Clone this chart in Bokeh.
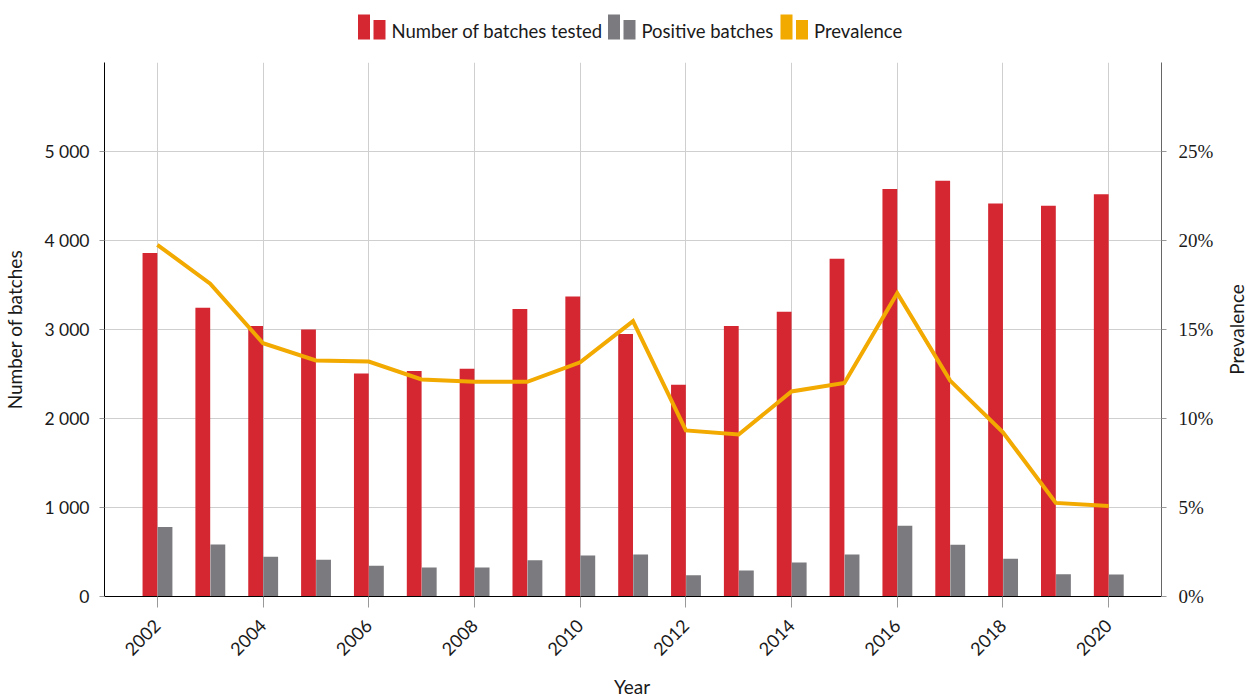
import math
from bokeh.plotting import figure
from bokeh.models import (Range1d, LinearAxis, FixedTicker, CustomJSTickFormatter,
                          ColumnDataSource)
from bokeh.transform import dodge
from bokeh.layouts import column, row
from bokeh.embed import file_html
from bokeh.resources import INLINE
from bokeh.core.properties import value

# ---------------- data ----------------
years = list(range(2002, 2021))
tested = [3860, 3245, 3040, 3000, 2505, 2535, 2560, 3230, 3370, 2950,
          2380, 3040, 3200, 3795, 4580, 4670, 4415, 4390, 4520]
positive = [780, 585, 447, 412, 345, 327, 327, 408, 461, 472,
            240, 292, 382, 472, 795, 581, 424, 251, 248]
prevalence = [19.76, 17.57, 14.23, 13.26, 13.20, 12.19, 12.06, 12.06, 13.16, 15.47,
              9.33, 9.10, 11.52, 12.00, 17.04, 12.13, 9.23, 5.26, 5.09]
left_ticks = [0, 1000, 2000, 3000, 4000, 5000]
right_ticks = [0, 5, 10, 15, 20, 25]
year_ticks = list(range(2002, 2021, 2))
legend_labels = ["Number of batches tested", "Positive batches", "Prevalence"]
x_title = "Year"
y_title = "Number of batches"
y2_title = "Prevalence"

# ---------------- style ----------------
RED = "#D42731"
GREY = "#7B7B7F"
ORANGE = "#F2A900"
GRID = "#CFCFCF"
FONT = "Lato"
TEXT = "#1a1a1a"

# page geometry (the page has no margin): frame spans x 103..1160, y 62..596
BL = 103          # left border
FW, FH = 1057, 534
BR_MAIN = 60      # right border of the main chart (tick labels)
RT_W = 26         # strip holding the right axis title
BR = BR_MAIN + RT_W
LEG_H = 54        # legend strip height
BT, BB = 8, 74    # main chart top / bottom borders
XT_H = 27         # strip holding the x axis title

src = ColumnDataSource(dict(year=years, tested=tested, positive=positive, prev=prevalence))


def strip(fw, fh, xr, yr, bl, br, bt=0, bb=0):
    f = figure(frame_width=fw, frame_height=fh, x_range=xr, y_range=yr,
               output_backend="svg", toolbar_location=None,
               min_border_left=bl, min_border_right=br, min_border_top=bt, min_border_bottom=bb,
               outline_line_color=None, x_axis_location=None, y_axis_location=None)
    f.grid.visible = False
    return f


# ---------------- legend strip (page-pixel coordinates) ----------------
lg = strip(FW, LEG_H, Range1d(BL, BL + FW), Range1d(LEG_H, 0), BL, BR)
item_x = [357.5, 607.5, 780.0]
bar_w, gap, text_dx = 12, 3.5, 33.5
colors = [RED, GREY, ORANGE]
for x0, c, lab in zip(item_x, colors, legend_labels):
    lg.quad(left=[x0], right=[x0 + bar_w], bottom=[39], top=[14], fill_color=c, line_color=None)
    lg.quad(left=[x0 + bar_w + gap], right=[x0 + 2 * bar_w + gap], bottom=[39], top=[19.5],
            fill_color=c, line_color=None)
    lg.text(x=[x0 + text_dx], y=[30], text=[lab], text_font=value(FONT),
            text_font_size="18.5px", text_baseline="middle", text_align="left",
            text_color=TEXT)

# ---------------- main chart ----------------
p = figure(frame_width=FW, frame_height=FH,
           x_range=Range1d(2001, 2021), y_range=Range1d(0, 6000),
           output_backend="svg", toolbar_location=None,
           min_border_left=BL, min_border_right=BR_MAIN, min_border_top=BT, min_border_bottom=BB,
           outline_line_color=None)
p.extra_y_ranges = {"pct": Range1d(0, 30)}

p.vbar(x=dodge("year", -0.14, range=p.x_range), top="tested", width=0.28, source=src,
       fill_color=RED, line_color=None)
p.vbar(x=dodge("year", 0.145, range=p.x_range), top="positive", width=0.28, source=src,
       fill_color=GREY, line_color=None)
p.line(x="year", y="prev", source=src, y_range_name="pct", line_color=ORANGE,
       line_width=4, line_join="miter")

# x axis
xa = p.xaxis[0]
xa.ticker = FixedTicker(ticks=year_ticks)
xa.major_label_orientation = math.pi / 4
xa.axis_line_color = "black"
xa.major_tick_out = 11
xa.major_tick_in = 0
xa.minor_tick_out = 0
xa.minor_tick_in = 0
xa.major_tick_line_color = "#999999"
xa.major_label_standoff = 15
xa.major_label_text_font_size = "18px"

# left axis
ya = p.yaxis[0]
ya.ticker = FixedTicker(ticks=left_ticks)
ya.formatter = CustomJSTickFormatter(code=r"""
const s = Math.round(tick).toString();
return s.replace(/\B(?=(\d{3})+(?!\d))/g, " ");
""")
ya.axis_label = y_title
ya.axis_line_color = "black"
ya.major_tick_out = 5
ya.major_tick_in = 0
ya.minor_tick_out = 0
ya.minor_tick_in = 0
ya.major_tick_line_color = "#999999"
ya.major_label_standoff = 10
ya.axis_label_standoff = 15
ya.major_label_text_font_size = "17.5px"
ya.axis_label_text_font = FONT
ya.axis_label_text_font_size = "19px"
ya.axis_label_text_font_style = "normal"
ya.axis_label_text_color = TEXT

# right axis
ra = LinearAxis(y_range_name="pct", ticker=FixedTicker(ticks=right_ticks),
                formatter=CustomJSTickFormatter(code="return tick + '%';"))
ra.axis_line_color = "#666666"
ra.major_tick_out = 5
ra.major_tick_in = 0
ra.minor_tick_out = 0
ra.minor_tick_in = 0
ra.major_tick_line_color = "#999999"
ra.major_label_standoff = 12
ra.major_label_text_font = "Liberation Serif"
ra.major_label_text_font_size = "19px"
p.add_layout(ra, "right")

for ax in [xa, ya, ra]:
    ax.major_label_text_color = TEXT
for ax in [xa, ya]:
    ax.major_label_text_font = FONT

p.xgrid.grid_line_color = GRID
p.ygrid.grid_line_color = GRID
p.xgrid.grid_line_width = 1
p.ygrid.grid_line_width = 1

# ---------------- right title strip (reads bottom to top) ----------------
rt = strip(RT_W, FH, Range1d(0, 1), Range1d(0, 1), 0, 0, BT, BB)
rt.text(x=[0.577], y=[0.5], text=[y2_title], angle=math.pi / 2, text_font=value(FONT),
        text_font_size="19px", text_align="center", text_baseline="middle", text_color=TEXT)

# ---------------- bottom title strip ----------------
bt = strip(FW, XT_H, Range1d(0, 1), Range1d(0, 1), BL, BR)
bt.text(x=[0.5], y=[0.407], text=[x_title], text_font=value(FONT),
        text_font_size="19px", text_align="center", text_baseline="middle", text_color=TEXT)

layout = column(lg, row(p, rt, spacing=0), bt, spacing=0)
open("out.html", "w").write(file_html(layout, INLINE))
